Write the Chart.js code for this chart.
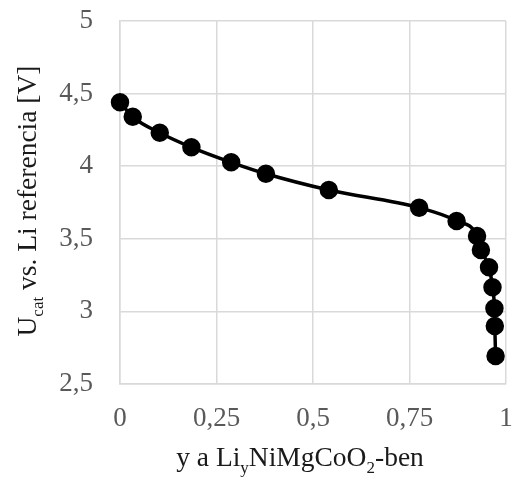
<!DOCTYPE html>
<html>
<head>
<meta charset="utf-8">
<script src="https://cdn.jsdelivr.net/npm/chart.js@4/dist/chart.umd.min.js"></script>
<style>
	html, body { margin: 0; padding: 0; background: #fff; }
	#wrap { width: 517px; height: 479px; }
</style>
</head>
<body>
<div id="wrap"><canvas id="cathodeChart"></canvas></div>
<script>
"use strict"

// VARIABLES -----------------------
const yLi = [0, 0.033, 0.103, 0.185, 0.288, 0.378, 0.541, 0.775, 0.872, 0.925, 0.935, 0.956, 0.965, 0.970, 0.971, 0.973]
const uCat = [4.44, 4.34, 4.23, 4.13, 4.027, 3.948, 3.836, 3.714, 3.623, 3.519, 3.423, 3.304, 3.166, 3.021, 2.90, 2.693]

const xTicks = [0, 0.25, 0.5, 0.75, 1]
const yTicks = [2.5, 3, 3.5, 4, 4.5, 5]

const serif = "'Liberation Serif', 'Times New Roman', serif"

// comma decimal separator
function hu(v) {
	return String(+v.toFixed(2)).replace(".", ",")
}

// draw text pieces, some of them as subscripts
function drawParts(ctx, parts, size) {
	var small = Math.round(size * 0.6)
	var w = 0
	parts.forEach(function (p) {
		ctx.font = (p.sub ? small : size) + "px " + serif
		w += ctx.measureText(p.t).width
	})
	var x = -w / 2
	parts.forEach(function (p) {
		ctx.font = (p.sub ? small : size) + "px " + serif
		ctx.fillText(p.t, x, p.sub ? size * 0.25 : 0)
		x += ctx.measureText(p.t).width
	})
}

// axis titles have subscripts, so they are drawn here
const axisTitles = {
	id: "axisTitles",
	afterDraw(chart) {
		var ctx = chart.ctx
		ctx.save()
		ctx.fillStyle = "#1a1a1a"
		ctx.textBaseline = "alphabetic"
		ctx.textAlign = "left"

		ctx.save()
		ctx.translate(300, 466)
		drawParts(ctx, [
			{ t: "y a Li" },
			{ t: "y", sub: true },
			{ t: "NiMgCoO" },
			{ t: "2", sub: true },
			{ t: "-ben" },
		], 27.5)
		ctx.restore()

		ctx.save()
		ctx.translate(36, 201)
		ctx.rotate(-Math.PI / 2)
		drawParts(ctx, [
			{ t: "U" },
			{ t: "cat", sub: true },
			{ t: " vs. Li referencia [V]" },
		], 27.5)
		ctx.restore()

		ctx.restore()
	},
}

// keep the plot box fixed, no extra label padding
function noPad(s) {
	s.paddingTop = 0
	s.paddingBottom = 0
	s.paddingLeft = 0
	s.paddingRight = 0
}

// CHART -----------------------
new Chart(document.getElementById("cathodeChart").getContext("2d"), {
	type: "scatter",
	data: {
		datasets: [
			{
				data: yLi.map(function (x, i) {
					return { x: x, y: uCat[i] }
				}),
				showLine: true,
				clip: false,
				borderColor: "#000",
				backgroundColor: "#000",
				borderWidth: 3.5,
				pointRadius: 7.5,
				pointHoverRadius: 7.5,
				cubicInterpolationMode: "monotone",
			},
		],
	},
	options: {
		responsive: true,
		maintainAspectRatio: false,
		animation: false,
		layout: { padding: { left: 0, top: 21, right: 11, bottom: 0 } },
		plugins: {
			legend: { display: false },
			tooltip: { enabled: false },
		},
		scales: {
			x: {
				type: "linear",
				min: 0,
				max: 1,
				afterBuildTicks: function (s) {
					s.ticks = xTicks.map(function (v) { return { value: v } })
				},
				afterFit: function (s) {
					s.height = 95
					noPad(s)
				},
				grid: { color: "#d9d9d9", lineWidth: 1.5, drawTicks: false },
				border: { color: "#d9d9d9", width: 1.5 },
				ticks: {
					color: "#595959",
					padding: 19,
					maxRotation: 0,
					font: { family: serif, size: 27 },
					callback: function (v) { return hu(v) },
				},
			},
			y: {
				min: 2.5,
				max: 5,
				afterBuildTicks: function (s) {
					s.ticks = yTicks.map(function (v) { return { value: v } })
				},
				afterFit: function (s) {
					s.width = 120
					noPad(s)
				},
				grid: { color: "#d9d9d9", lineWidth: 1.5, drawTicks: false },
				border: { color: "#d9d9d9", width: 1.5 },
				ticks: {
					color: "#595959",
					padding: 27,
					font: { family: serif, size: 27 },
					callback: function (v) { return hu(v) },
				},
			},
		},
	},
	plugins: [axisTitles],
})
</script>
</body>
</html>
